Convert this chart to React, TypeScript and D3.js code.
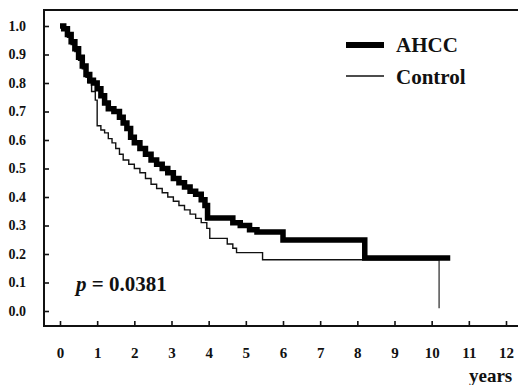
import { useEffect, useRef } from 'react'
import * as d3 from 'd3'

// Kaplan-Meier step points (years, survival)
const ahccTimes = [0, 0.1, 0.2, 0.3, 0.4, 0.5, 0.6, 0.7, 0.8, 0.9, 1.0, 1.1, 1.2, 1.3, 1.45, 1.6, 1.7, 1.8, 1.9, 2.0, 2.15, 2.3, 2.45, 2.6, 2.75, 2.9, 3.05, 3.2, 3.35, 3.5, 3.65, 3.8, 3.9, 3.97, 4.65, 4.85, 5.1, 5.3, 6.0, 8.2, 10.5]
const ahccSurv = [1.0, 0.99, 0.97, 0.945, 0.92, 0.89, 0.86, 0.83, 0.81, 0.8, 0.78, 0.755, 0.73, 0.71, 0.7, 0.68, 0.66, 0.64, 0.61, 0.59, 0.57, 0.55, 0.53, 0.515, 0.5, 0.485, 0.465, 0.45, 0.435, 0.42, 0.41, 0.39, 0.37, 0.326, 0.31, 0.3, 0.285, 0.277, 0.249, 0.186, 0.186]

const controlTimes = [0, 0.1, 0.2, 0.3, 0.4, 0.5, 0.6, 0.7, 0.75, 0.85, 0.95, 1.0, 1.1, 1.2, 1.3, 1.4, 1.5, 1.6, 1.7, 1.85, 2.0, 2.15, 2.3, 2.45, 2.6, 2.75, 2.9, 3.05, 3.2, 3.35, 3.5, 3.65, 3.8, 3.95, 4.03, 4.5, 4.65, 4.75, 5.45, 10.2]
const controlSurv = [1.0, 0.985, 0.96, 0.935, 0.91, 0.88, 0.85, 0.82, 0.8, 0.77, 0.74, 0.65, 0.635, 0.625, 0.605, 0.59, 0.57, 0.55, 0.53, 0.515, 0.5, 0.485, 0.465, 0.445, 0.43, 0.415, 0.4, 0.385, 0.37, 0.355, 0.34, 0.325, 0.31, 0.29, 0.255, 0.235, 0.22, 0.205, 0.18, 0.01]

const xTicks = [0, 1, 2, 3, 4, 5, 6, 7, 8, 9, 10, 11, 12]
const yTicks = [0, 0.1, 0.2, 0.3, 0.4, 0.5, 0.6, 0.7, 0.8, 0.9, 1.0]

const FONT = 'Liberation Serif, Times New Roman, serif'

export default function App() {
  const svgRef = useRef<SVGSVGElement>(null)

  useEffect(() => {
    const W = 518
    const H = 385
    const left = 44
    const top = 10
    const bottom = 326

    const x = d3.scaleLinear().domain([0, 12]).range([60, 506])
    const y = d3.scaleLinear().domain([0, 1]).range([311, 26])

    const svg = d3.select(svgRef.current)
    svg.selectAll('*').remove()
    svg.attr('width', W).attr('height', H).style('font-family', FONT)

    svg.append('rect').attr('width', W).attr('height', H).attr('fill', '#fff')

    // frame: left, bottom, top
    const frame = svg.append('g').attr('stroke', '#111').attr('stroke-width', 2)
    frame.append('line').attr('x1', left).attr('x2', left).attr('y1', top - 1).attr('y2', bottom + 1)
    frame.append('line').attr('x1', left).attr('x2', W).attr('y1', bottom).attr('y2', bottom)
    frame.append('line').attr('x1', left).attr('x2', W).attr('y1', top).attr('y2', top)

    // y axis
    svg.append('g')
      .attr('transform', `translate(${left},0)`)
      .call(d3.axisLeft(y).tickValues(yTicks).tickSize(-5).tickPadding(18).tickFormat(d3.format('.1f')))
      .call((ax) => ax.attr('font-family', FONT))
      .call((ax) => ax.select('.domain').remove())
      .call((ax) => ax.selectAll('.tick line').attr('stroke', '#111').attr('stroke-width', 1.6))
      .call((ax) => ax.selectAll('text')
        .attr('fill', '#111').attr('font-size', 14).attr('font-weight', 'bold'))

    // x axis
    svg.append('g')
      .attr('transform', `translate(0,${bottom})`)
      .call(d3.axisBottom(x).tickValues(xTicks).tickSize(-5).tickPadding(21).tickFormat(d3.format('d')))
      .call((ax) => ax.attr('font-family', FONT))
      .call((ax) => ax.select('.domain').remove())
      .call((ax) => ax.selectAll('.tick line').attr('stroke', '#111').attr('stroke-width', 1.6))
      .call((ax) => ax.selectAll('text')
        .attr('fill', '#111').attr('font-size', 15).attr('font-weight', 'bold'))

    svg.append('text')
      .attr('x', 469).attr('y', 382)
      .attr('fill', '#111').attr('font-size', 19).attr('font-weight', 'bold').attr('font-family', FONT)
      .text('years')

    const line = d3.line<[number, number]>()
      .x((d) => x(d[0]))
      .y((d) => y(d[1]))
      .curve(d3.curveStepAfter)

    const control = controlTimes.map((t, i) => [t, controlSurv[i]] as [number, number])
    const ahcc = ahccTimes.map((t, i) => [t, ahccSurv[i]] as [number, number])

    // control's last step drops at 10.2, draw the drop as a vertical
    const ctrlPath = control.slice(0, -1)
    ctrlPath.push([controlTimes[controlTimes.length - 1], controlSurv[controlSurv.length - 2]])
    svg.append('path')
      .datum(ctrlPath)
      .attr('fill', 'none').attr('stroke', '#111').attr('stroke-width', 1.4)
      .attr('d', line)
    const last = control[control.length - 1]
    svg.append('line')
      .attr('x1', x(last[0])).attr('x2', x(last[0]))
      .attr('y1', y(controlSurv[controlSurv.length - 2])).attr('y2', y(last[1]))
      .attr('stroke', '#444').attr('stroke-width', 1.4)

    svg.append('path')
      .datum(ahcc)
      .attr('fill', 'none').attr('stroke', '#000').attr('stroke-width', 5.5)
      .attr('d', line)

    // legend
    const lg = svg.append('g').attr('font-weight', 'bold').attr('fill', '#111').attr('font-family', FONT)
    lg.append('line').attr('x1', 346).attr('x2', 384).attr('y1', 45).attr('y2', 45)
      .attr('stroke', '#000').attr('stroke-width', 6)
    lg.append('text').attr('x', 396).attr('y', 52).attr('font-size', 21).text('AHCC')
    lg.append('line').attr('x1', 346).attr('x2', 384).attr('y1', 76).attr('y2', 76)
      .attr('stroke', '#111').attr('stroke-width', 1.4)
    lg.append('text').attr('x', 396).attr('y', 84).attr('font-size', 21).text('Control')

    // p value
    const pt = svg.append('text')
      .attr('x', 76).attr('y', 291)
      .attr('font-weight', 'bold').attr('font-size', 21).attr('fill', '#111').attr('font-family', FONT)
    pt.append('tspan').attr('font-style', 'italic').text('p')
    pt.append('tspan').text(' = 0.0381')

    return () => {
      svg.selectAll('*').remove()
    }
  }, [])

  return (
    <div style={{ position: 'absolute', left: 0, top: 0 }}>
      <svg ref={svgRef} style={{ display: 'block' }} />
    </div>
  )
}
